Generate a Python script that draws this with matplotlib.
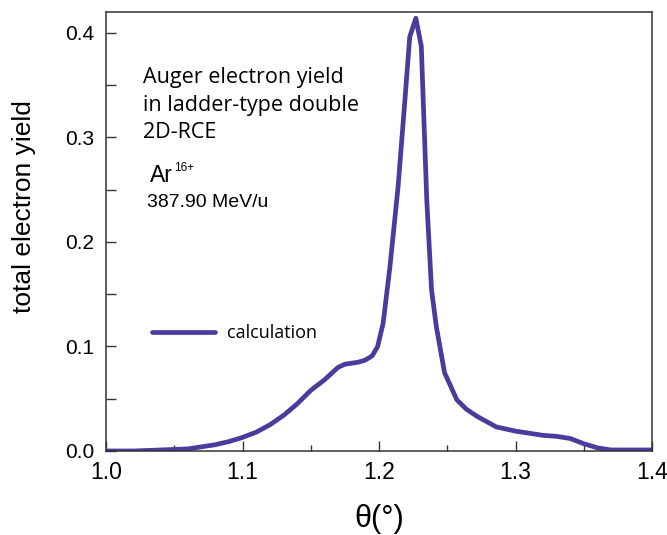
import numpy as np
import matplotlib
matplotlib.use('Agg')
import matplotlib.pyplot as plt
from matplotlib.ticker import MultipleLocator

# --- data ---
theta = [1.00, 1.02, 1.04, 1.06, 1.07, 1.08, 1.09, 1.10, 1.11, 1.12, 1.13,
         1.14, 1.15, 1.16, 1.165, 1.17, 1.175, 1.18, 1.185, 1.19, 1.195,
         1.199, 1.203, 1.208, 1.214, 1.219, 1.2225, 1.227, 1.231, 1.235,
         1.2385, 1.242, 1.248, 1.257, 1.264, 1.272, 1.286, 1.30, 1.31,
         1.32, 1.33, 1.34, 1.35, 1.36, 1.37, 1.38, 1.39, 1.40]
yield_calc = [0.000, 0.000, 0.001, 0.002, 0.004, 0.006, 0.009, 0.013, 0.018,
              0.025, 0.034, 0.045, 0.058, 0.068, 0.074, 0.080, 0.083, 0.084,
              0.085, 0.087, 0.091, 0.100, 0.122, 0.176, 0.253, 0.336, 0.396,
              0.414, 0.387, 0.240, 0.154, 0.119, 0.075, 0.049, 0.040, 0.033,
              0.023, 0.019, 0.017, 0.015, 0.014, 0.012, 0.007, 0.003, 0.001,
              0.001, 0.001, 0.001]

note_lines = ['Auger electron yield', 'in ladder-type double', '2D-RCE']

line_color = '#4a3b9c'
sans = 'Liberation Sans'
myriad = 'Open Sans'

W, H = 667, 535
fig = plt.figure(figsize=(W / 100, H / 100), dpi=100)
ax = fig.add_axes([106 / W, 1 - 451 / H, 546 / W, 439.5 / H])

def px(x, y):
    # pixel position in the picture -> figure fraction
    return x / W, 1 - y / H

ax.plot(theta, yield_calc, color=line_color, lw=3.4, solid_capstyle='round',
        solid_joinstyle='round', label='calculation')

ax.set_xlim(1.0, 1.4)
ax.set_ylim(0.0, 0.4204)
ax.xaxis.set_major_locator(MultipleLocator(0.1))
ax.xaxis.set_minor_locator(MultipleLocator(0.05))
ax.yaxis.set_major_locator(MultipleLocator(0.1))
ax.yaxis.set_minor_locator(MultipleLocator(0.05))
ax.xaxis.set_major_formatter(plt.FuncFormatter(lambda v, p: f'{v:.1f}'))
ax.yaxis.set_major_formatter(plt.FuncFormatter(lambda v, p: f'{v:.1f}'))

ax.tick_params(which='both', direction='in', top=False, right=False,
               colors='#333333', labelcolor='black', width=1.0)
ax.tick_params(which='major', length=7)
ax.tick_params(axis='x', which='major', labelsize=16.5, pad=7)
ax.tick_params(axis='y', which='major', labelsize=15, pad=8.5)
ax.tick_params(axis='x', which='minor', length=4)
ax.tick_params(axis='y', which='minor', length=7)
for lab in ax.get_xticklabels() + ax.get_yticklabels():
    lab.set_family(sans)
for sp in ax.spines.values():
    sp.set_color('#333333')
    sp.set_linewidth(1.1)

ax.set_ylabel('total electron yield', family=sans, fontsize=19, va='center')
ax.yaxis.set_label_coords(-0.150, 0.557)
ax.set_xlabel('θ(°)', family=sans, fontsize=22)
ax.xaxis.set_label_coords(0.5, -0.12)

for i, s in enumerate(note_lines):
    fig.text(*px(143, 83 + 27.5 * i), s, family=myriad, fontsize=15.5,
             va='baseline')
fig.text(*px(150, 182), 'Ar', family=sans, fontsize=16.5, va='baseline')
fig.text(*px(174, 171), '16+', family=sans, fontsize=8.5, va='baseline')
fig.text(*px(147, 207), '387.90 MeV/u', family=sans, fontsize=14,
         va='baseline')

leg = ax.legend(loc='center left', bbox_to_anchor=(46 / 546, (451 - 333) / 439.5),
                frameon=False, borderpad=0, borderaxespad=0,
                handlelength=3.5, handletextpad=0.65,
                prop={'family': myriad, 'size': 13})

fig.savefig('out.png', dpi=100)
